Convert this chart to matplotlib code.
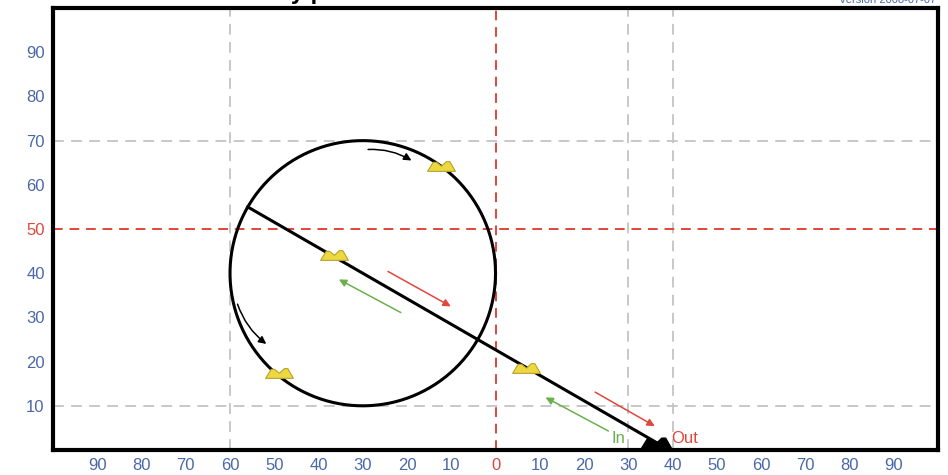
import matplotlib.pyplot as plt
import numpy as np
from matplotlib.path import Path

# chart values
x_ticks = list(range(-90, 91, 10))
y_ticks = list(range(10, 91, 10))
grid_x = [-60, 30, 40]
grid_y = [10, 70]
ref_x = 0
ref_y = 50

circle_center = (-30, 40)
circle_radius = 30
track_start = (-56, 55)
track_end = (39.3, 0)

plane_x = [-12.4, -49, -36.5, 6.8]
plane_y = [64.3, 17.5, 44.2, 18.6]
end_plane = (36.2, 1.6)

turn_arrows = [((-28.8, 68), (-19, 65.5), -0.15), ((-58.3, 33), (-51.8, 24), 0.15)]
out_arrows = [((-24.3, 40.4), (-10.1, 32.5), 0), ((22.5, 13.1), (36, 5.4), 0)]
in_arrows = [((-21.4, 31.1), (-35.4, 38.6), 0), ((25.5, 4.3), (11.3, 11.9), 0)]

blue = '#4a68a8'
red = '#e0463c'
green = '#6ab04c'

plt.rcParams['font.family'] = ['Liberation Sans', 'DejaVu Sans']

fig = plt.figure(figsize=(9.48, 4.75), dpi=100)
ax = fig.add_axes([0.0559, 0.0526, 0.9336, 0.9305])
ax.set_xlim(-100, 100)
ax.set_ylim(0, 100)

# grid
for gx in grid_x:
    ax.axvline(gx, color='#c4c4c4', ls=(0, (6, 4)), lw=1.3, zorder=1)
for gy in grid_y:
    ax.axhline(gy, color='#c4c4c4', ls=(0, (6, 4)), lw=1.3, zorder=1)
ax.axvline(ref_x, color=red, ls=(0, (5, 3.5)), lw=1.4, zorder=1)
ax.axhline(ref_y, color=red, ls=(0, (5, 3.5)), lw=1.4, zorder=1)

# holding circle and track
t = np.linspace(0, 2 * np.pi, 400)
ax.plot(circle_center[0] + circle_radius * np.cos(t),
        circle_center[1] + circle_radius * np.sin(t), color='black', lw=2.2, zorder=3)
ax.plot([track_start[0], track_end[0]], [track_start[1], track_end[1]],
        color='black', lw=2.2, zorder=3)

# plane symbols
verts = [(-1, -0.35), (-0.6, 0.3), (-0.35, 0.3), (0.0, 0.02), (0.35, 0.35),
         (0.6, 0.35), (1.0, -0.35), (-1, -0.35)]
codes = [Path.MOVETO] + [Path.LINETO] * 6 + [Path.CLOSEPOLY]
plane = Path(verts, codes)
ax.plot(plane_x, plane_y, ls='none', marker=plane, ms=20,
        mfc='#ecd841', mec='#b9a22a', mew=0.8, zorder=4)
ax.plot([end_plane[0]], [end_plane[1]], ls='none', marker=plane, ms=22,
        mfc='black', mec='black', zorder=4)

# direction arrows
for arrows, col in [(turn_arrows, 'black'), (out_arrows, red), (in_arrows, green)]:
    for (x0, y0), (x1, y1), rad in arrows:
        ax.annotate('', xy=(x1, y1), xytext=(x0, y0),
                    arrowprops=dict(arrowstyle='-|>', color=col, lw=1.1,
                                    mutation_scale=11, shrinkA=0, shrinkB=0,
                                    connectionstyle=f'arc3,rad={rad}'), zorder=5)

ax.text(27.7, 2.6, 'In', color=green, fontsize=12, ha='center', va='center')
ax.text(42.8, 2.6, 'Out', color=red, fontsize=12, ha='center', va='center')

# ticks
ax.set_xticks(x_ticks)
ax.set_xticklabels([str(abs(v)) for v in x_ticks])
ax.set_yticks(y_ticks)
ax.set_yticklabels([str(v) for v in y_ticks])
ax.tick_params(length=0, labelsize=12, pad=6)
for lab, v in zip(ax.get_xticklabels(), x_ticks):
    lab.set_color(red if v == ref_x else blue)
for lab, v in zip(ax.get_yticklabels(), y_ticks):
    lab.set_color(red if v == ref_y else blue)

for s in ax.spines.values():
    s.set_linewidth(3)
    s.set_color('black')

# header, cut off at the top edge as in the original
fig.text(0.06, 1.003, 'Sector 2 - Offset entry procedure', fontsize=17,
         fontweight='bold', va='baseline', ha='left')
fig.text(0.987, 0.993, 'Version 2008-07-07', fontsize=8, color=blue,
         va='baseline', ha='right')

fig.savefig('out.png', dpi=100)
